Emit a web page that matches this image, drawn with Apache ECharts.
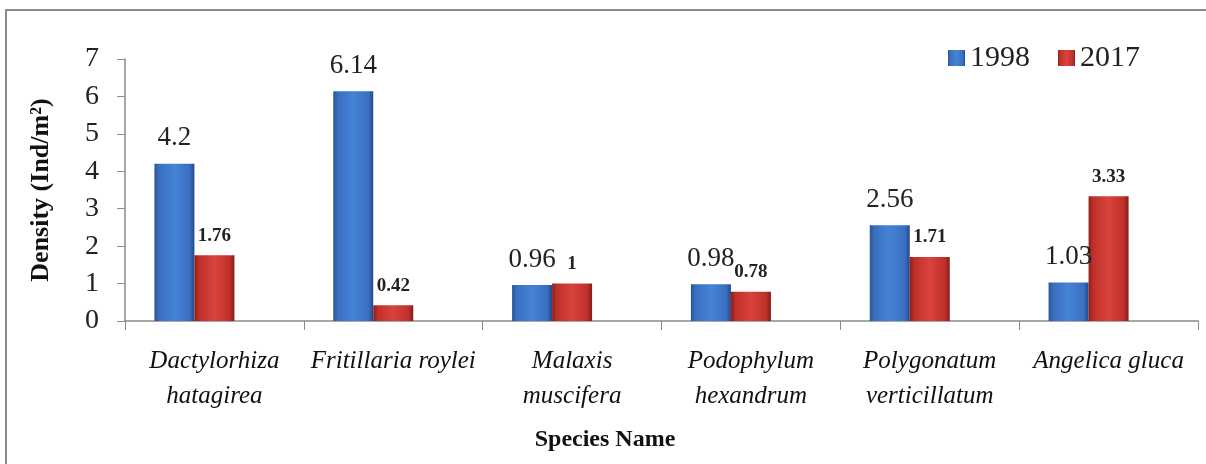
<!DOCTYPE html>
<html>
<head>
<meta charset="utf-8">
<script src="https://cdn.jsdelivr.net/npm/echarts@6/dist/echarts.min.js"></script>
<style>
html, body { margin: 0; padding: 0; background: #fff; }
#chart { width: 1206px; height: 464px; }
</style>
</head>
<body>
<div id="chart"></div>
<script>
// species on the x axis (italic, two lines where the source wraps)
var species = ['Dactylorhiza\nhatagirea', 'Fritillaria roylei', 'Malaxis\nmuscifera',
	'Podophylum\nhexandrum', 'Polygonatum\nverticillatum', 'Angelica gluca'];
var density1998 = [4.2, 6.14, 0.96, 0.98, 2.56, 1.03];
var density2017 = [1.76, 0.42, 1, 0.78, 1.71, 3.33];
// empty slot so the pair sits left of the category centre like the source
var emptySlot = [null, null, null, null, null, null];
var yTicks = [0, 1, 2, 3, 4, 5, 6, 7];

var serif = '"Liberation Serif", "DejaVu Serif", serif';

var blueFill = {
	type: 'linear', x: 0, y: 0, x2: 1, y2: 0,
	colorStops: [
		{offset: 0, color: '#2a5597'},
		{offset: 0.12, color: '#3a6fc0'},
		{offset: 0.5, color: '#4583d6'},
		{offset: 0.88, color: '#3a6fc0'},
		{offset: 1, color: '#24488a'}
	]
};
var redFill = {
	type: 'linear', x: 0, y: 0, x2: 1, y2: 0,
	colorStops: [
		{offset: 0, color: '#8e1f1b'},
		{offset: 0.12, color: '#bf302b'},
		{offset: 0.5, color: '#d9433b'},
		{offset: 0.88, color: '#bf302b'},
		{offset: 1, color: '#861b17'}
	]
};

var chart = echarts.init(document.getElementById('chart'));
chart.setOption({
	animation: false,
	backgroundColor: '#fff',
	graphic: [{
		type: 'rect',
		shape: {x: 6, y: 10, width: 1220, height: 480},
		style: {fill: 'none', stroke: '#8a8a8a', lineWidth: 2},
		silent: true
	}],
	title: {
		text: 'Species Name',
		left: 600,
		top: 423,
		textAlign: 'center',
		textStyle: {fontFamily: serif, fontWeight: 'bold', fontSize: 24, color: '#111'}
	},
	legend: {
		data: ['1998', '2017'],
		left: 943,
		top: 38,
		icon: 'rect',
		itemWidth: 17,
		itemHeight: 16,
		itemGap: 28,
		textStyle: {fontFamily: serif, fontSize: 30, color: '#222'}
	},
	grid: {left: 125, right: 8, top: 59, bottom: 143},
	xAxis: {
		type: 'category',
		data: species,
		axisLine: {lineStyle: {color: '#8a8a8a', width: 1.5}},
		axisTick: {show: true, length: 9, lineStyle: {color: '#8a8a8a'}},
		axisLabel: {
			interval: 0,
			margin: 23,
			fontFamily: serif,
			fontStyle: 'italic',
			fontSize: 25,
			lineHeight: 35,
			color: '#111'
		}
	},
	yAxis: {
		type: 'value',
		min: yTicks[0],
		max: yTicks[yTicks.length - 1],
		interval: 1,
		name: 'Density (Ind/m²)',
		nameLocation: 'middle',
		nameGap: 71,
		nameTextStyle: {fontFamily: serif, fontWeight: 'bold', fontSize: 26, color: '#111'},
		splitLine: {show: false},
		axisLine: {show: true, lineStyle: {color: '#8a8a8a', width: 1.5}},
		axisTick: {show: true, length: 8, lineStyle: {color: '#8a8a8a'}},
		axisLabel: {margin: 26, fontFamily: serif, fontSize: 28, color: '#222'}
	},
	series: [{
		name: '1998',
		type: 'bar',
		data: density1998,
		barWidth: 40,
		barGap: '0%',
		itemStyle: {color: blueFill},
		label: {
			show: true, position: 'top', distance: 12,
			fontFamily: serif, fontSize: 27, color: '#222'
		}
	}, {
		name: '2017',
		type: 'bar',
		data: density2017,
		barWidth: 40,
		itemStyle: {color: redFill},
		label: {
			show: true, position: 'top', distance: 10,
			fontFamily: serif, fontSize: 19, fontWeight: 'bold', color: '#222'
		}
	}, {
		name: 'slot',
		type: 'bar',
		data: emptySlot,
		barWidth: 40,
		silent: true
	}]
});
</script>
</body>
</html>
